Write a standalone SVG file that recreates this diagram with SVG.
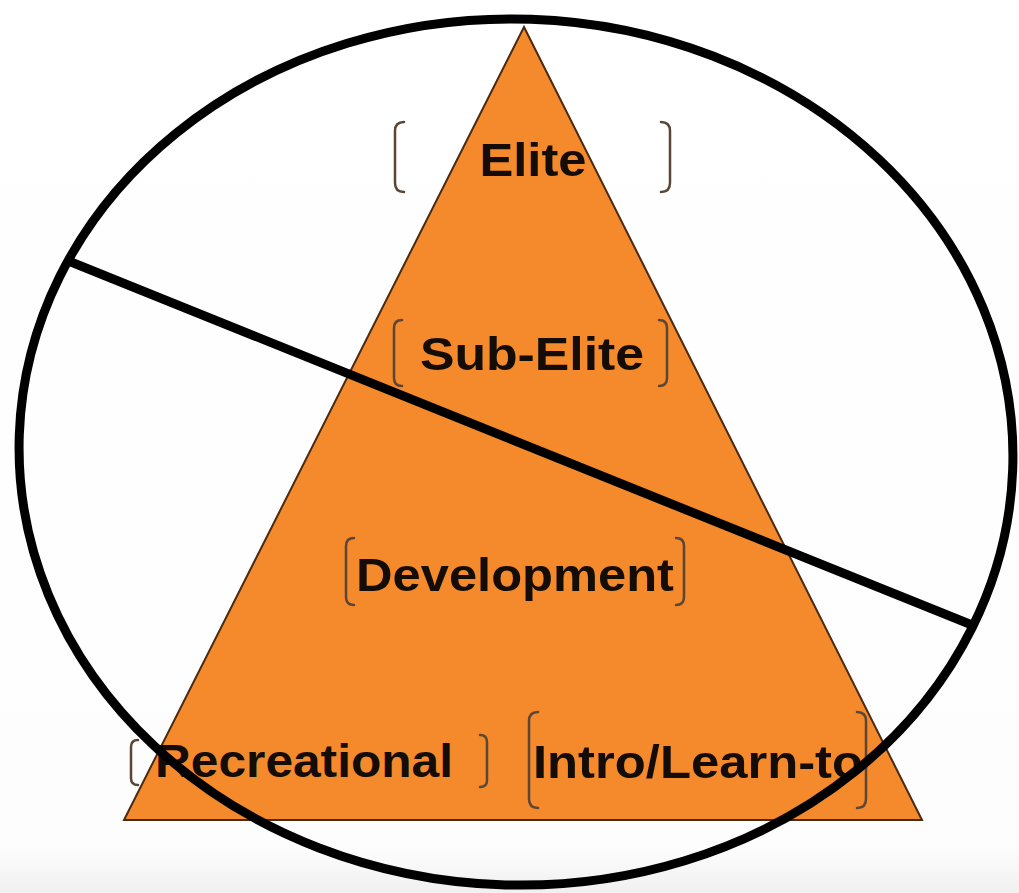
<svg xmlns="http://www.w3.org/2000/svg" width="1019" height="893" viewBox="0 0 1019 893">
  <defs>
    <linearGradient id="bg" x1="0" y1="0" x2="0" y2="1">
      <stop offset="0" stop-color="#ffffff"/>
      <stop offset="0.95" stop-color="#fdfdfd"/>
      <stop offset="1" stop-color="#f0f0f0"/>
    </linearGradient>
  </defs>
  <style>
    .tier { fill: #F48A2C; stroke: #4a2a10; stroke-width: 2; }
    .label { font-family: "Liberation Sans", Arial, sans-serif; font-weight: bold; font-size: 46px; fill: #140c06; }
    .brk { fill: none; stroke: #5b4636; stroke-width: 2.5; stroke-linecap: round; }
    .heavy { fill: none; stroke: #000; stroke-width: 9; }
  </style>

  <rect x="0" y="0" width="1019" height="893" fill="url(#bg)"/>

  <!-- pyramid -->
  <g id="pyramid">
    <polygon class="tier" points="524,27 922,820 124,820"/>
  </g>

  <!-- tier labels with bracket marks -->
  <g id="elite">
    <path class="brk" d="M404,122 Q395,122 395,131 L395,183 Q395,192 404,192"/>
    <path class="brk" d="M661,122 Q670,122 670,131 L670,183 Q670,192 661,192"/>
    <text class="label" x="533" y="176" text-anchor="middle" textLength="107" lengthAdjust="spacingAndGlyphs">Elite</text>
  </g>
  <g id="sub-elite">
    <path class="brk" d="M402,320 Q394,320 394,328 L394,378 Q394,386 402,386"/>
    <path class="brk" d="M659,320 Q667,320 667,328 L667,378 Q667,386 659,386"/>
    <text class="label" x="532" y="370" text-anchor="middle" textLength="224" lengthAdjust="spacingAndGlyphs">Sub-Elite</text>
  </g>
  <g id="development">
    <path class="brk" d="M354,538 Q346,538 346,546 L346,597 Q346,605 354,605"/>
    <path class="brk" d="M676,538 Q684,538 684,546 L684,597 Q684,605 676,605"/>
    <text class="label" x="515" y="591" text-anchor="middle" textLength="318" lengthAdjust="spacingAndGlyphs">Development</text>
  </g>
  <g id="recreational">
    <path class="brk" d="M138,740 Q131,740 131,747 L131,778 Q131,785 138,785"/>
    <path class="brk" d="M480,735 Q487,735 487,742 L487,780 Q487,787 480,787"/>
    <text class="label" x="155" y="777" textLength="298" lengthAdjust="spacingAndGlyphs">Recreational</text>
  </g>
  <g id="intro">
    <path class="brk" d="M538,712 Q529,712 529,721 L529,799 Q529,808 538,808"/>
    <path class="brk" d="M857,712 Q866,712 866,721 L866,799 Q866,808 857,808"/>
    <text class="label" x="533" y="778" textLength="330" lengthAdjust="spacingAndGlyphs">Intro/Learn-to</text>
  </g>

  <!-- enclosing ring and slash -->
  <g id="connectors">
    <ellipse class="heavy" cx="516" cy="452" rx="497" ry="433" transform="rotate(2 516 452)"/>
    <line class="heavy" x1="66" y1="260" x2="972" y2="625"/>
  </g>
</svg>
